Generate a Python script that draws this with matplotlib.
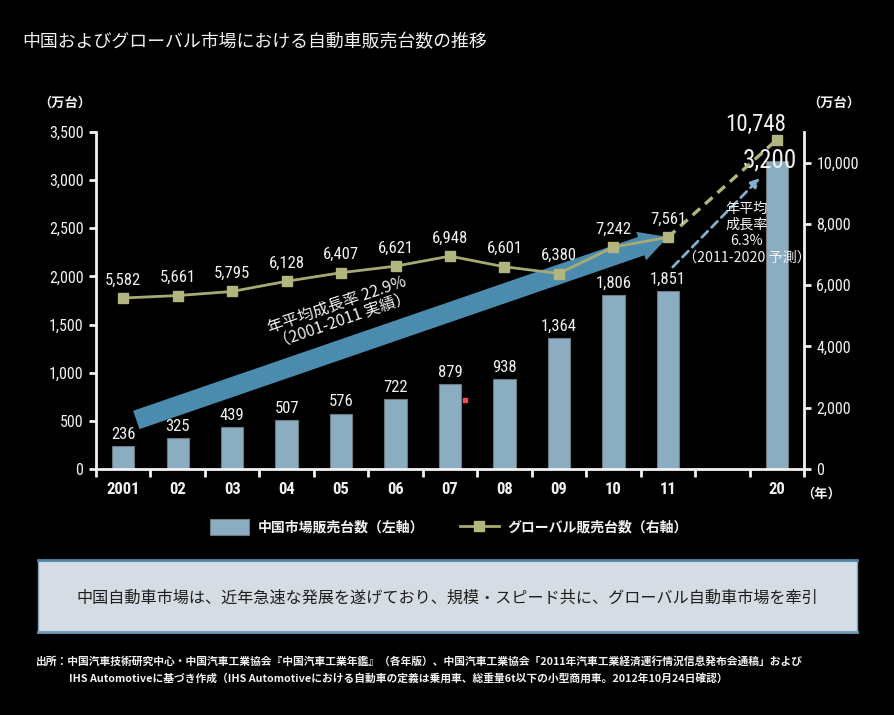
import matplotlib
matplotlib.use("Agg")
import matplotlib.pyplot as plt
import numpy as np
from matplotlib import font_manager
from matplotlib.patches import Patch, Rectangle
from matplotlib.lines import Line2D

# ---------------- data ----------------
year_labels = ['2001', '02', '03', '04', '05', '06', '07', '08', '09', '10', '11', '20']
years = [2001, 2002, 2003, 2004, 2005, 2006, 2007, 2008, 2009, 2010, 2011, 2020]
china_sales = [236, 325, 439, 507, 576, 722, 879, 938, 1364, 1806, 1851, 3200]
global_sales = [5582, 5661, 5795, 6128, 6407, 6621, 6948, 6601, 6380, 7242, 7561, 10748]
left_ticks = [0, 500, 1000, 1500, 2000, 2500, 3000, 3500]
right_ticks = [0, 2000, 4000, 6000, 8000, 10000]

title = '中国およびグローバル市場における自動車販売台数の推移'
legend_labels = ['中国市場販売台数（左軸）', 'グローバル販売台数（右軸）']
cagr_actual = '年平均成長率 22.9%\n（2001-2011 実績）'
cagr_forecast = '年平均\n成長率\n6.3%\n（2011-2020 予測）'
box_text = '中国自動車市場は、近年急速な発展を遂げており、規模・スピード共に、グローバル自動車市場を牽引'
source1 = '出所：中国汽車技術研究中心・中国汽車工業協会『中国汽車工業年鑑』（各年版）、中国汽車工業協会「2011年汽車工業経済運行情況信息発布会通稿」および'
source2 = 'IHS Automotiveに基づき作成（IHS Automotiveにおける自動車の定義は乗用車、総重量6t以下の小型商用車。2012年10月24日確認）'

# ---------------- style ----------------
CJK = ['Noto Sans CJK JP', 'DejaVu Sans']
plt.rcParams['font.family'] = CJK

# pick a narrow font for numbers if one is installed
_names = {f.name for f in font_manager.fontManager.ttflist}
_dv_cond = any(f.name == 'DejaVu Sans' and str(f.stretch) in ('condensed', 'semi-condensed', '700', '600')
               for f in font_manager.fontManager.ttflist)
NUM_KW = dict(family=['Noto Sans CJK JP', 'DejaVu Sans'])
for cand in ['Liberation Sans Narrow', 'Roboto Condensed', 'Open Sans Condensed', 'Noto Sans Condensed']:
    if cand in _names:
        NUM_KW = dict(family=[cand, 'Noto Sans CJK JP'])
        break
else:
    if _dv_cond:
        NUM_KW = dict(family=['DejaVu Sans'], fontstretch='condensed')

BAR = '#8AADC2'
LINE = '#A7AB73'
MARK = '#B2B67E'
ARROW = '#4B8BAE'
DASHBLUE = '#84AECA'
WHITE = '#F2F2F2'

fig = plt.figure(figsize=(8.94, 7.15), dpi=100, facecolor='black')
W, H = 894, 715
ax = fig.add_axes([96 / W, 1 - 469 / H, (804 - 96) / W, (469 - 132) / H])
ax.set_facecolor('black')
ax2 = ax.twinx()

# x positions: consecutive years, with a one-slot gap before 2020
xpos = np.array([i if y <= 2011 else i + 1 for i, y in enumerate(years)], dtype=float)

# bars
ax.bar(xpos, china_sales, width=0.41, color=BAR, edgecolor='#6E7880', linewidth=0.8, zorder=2)
ax.set_xlim(-0.5, xpos[-1] + 0.5)
ax.set_ylim(0, 3500)
ax.set_yticks(left_ticks)
ax.set_yticklabels([f'{v:,}' for v in left_ticks], fontsize=11.5, color=WHITE, **NUM_KW)

for x, v in zip(xpos[:-1], china_sales[:-1]):
    ax.annotate(f'{v:,}', (x, v), xytext=(0, 3), textcoords='offset points',
                ha='center', va='bottom', color=WHITE, fontsize=12, zorder=5, **NUM_KW)
ax.annotate(f'{china_sales[-1]:,}', (xpos[-1], china_sales[-1]), xytext=(-5, 0),
            textcoords='offset points', ha='center', va='center', color=WHITE,
            fontsize=18, zorder=5, **NUM_KW)

# x ticks: boundaries as major ticks, labels at minor positions
ax.set_xticks(np.arange(-0.5, xpos[-1] + 0.6, 1.0))
ax.set_xticklabels([])
ax.set_xticks(xpos, minor=True)
ax.set_xticklabels(year_labels, minor=True, fontsize=12, color=WHITE, fontweight='bold', **NUM_KW)
ax.tick_params(axis='x', which='major', direction='out', length=6, width=2, color=WHITE)
ax.tick_params(axis='x', which='minor', length=0, pad=9)
ax.tick_params(axis='y', direction='out', length=5, width=2, color=WHITE, pad=4)

for s in ['top', 'right']:
    ax.spines[s].set_visible(False)
for s in ['left', 'bottom']:
    ax.spines[s].set_color(WHITE)
    ax.spines[s].set_linewidth(2)

# right axis: global sales
ax2.set_ylim(0, 11000)
ax2.set_yticks(right_ticks)
ax2.set_yticklabels([f'{v:,}' for v in right_ticks], fontsize=11.5, color=WHITE, **NUM_KW)
ax2.tick_params(axis='y', direction='out', length=5, width=2, color=WHITE, pad=4)
for s in ['top', 'left', 'bottom']:
    ax2.spines[s].set_visible(False)
ax2.spines['right'].set_color(WHITE)
ax2.spines['right'].set_linewidth(2)

# big CAGR arrow (behind the line)
ax2.annotate('', xy=(10.0, 2410 * 11000 / 3500), xytext=(0.24, 509 * 11000 / 3500),
             arrowprops=dict(arrowstyle='simple,head_length=1.45,head_width=1.55,tail_width=1.0',
                             mutation_scale=14, color=ARROW, linewidth=0, shrinkA=0, shrinkB=0),
             zorder=1)
ax.text(3.98, 1620, cagr_actual, rotation=19, rotation_mode='anchor', ha='center', va='center',
        multialignment='center', color=WHITE, fontsize=11.5, linespacing=1.0, zorder=6)

# forecast dashed line
ax2.plot(xpos[-2:], global_sales[-2:], color='#B3B57D', lw=2.4, ls=(0, (3, 2)), zorder=3)
ax2.plot(xpos[:-1], global_sales[:-1], color=LINE, lw=2, zorder=3)
ax2.plot(xpos, global_sales, ls='none', marker='s', ms=7, mfc=MARK, mec=MARK, zorder=4)

for x, v in zip(xpos[:-1], global_sales[:-1]):
    ax2.annotate(f'{v:,}', (x, v), xytext=(0, 13), textcoords='offset points',
                 ha='center', va='center', color=WHITE, fontsize=12, zorder=5, **NUM_KW)
ax2.annotate(f'{global_sales[-1]:,}', (xpos[-1], global_sales[-1]), xytext=(-15, 11),
             textcoords='offset points', ha='center', va='center', color=WHITE,
             fontsize=16.5, zorder=5, **NUM_KW)

# forecast CAGR dashed arrow + text
ax.annotate('', xy=(11.69, 3022), xytext=(10.09, 2098),
            arrowprops=dict(arrowstyle='-|>', linestyle=(0, (3, 2)), color=DASHBLUE, lw=2,
                            mutation_scale=13, shrinkA=0, shrinkB=0), zorder=4)
ax.text(11.45, 2450, cagr_forecast, ha='center', va='center', multialignment='center',
        color=WHITE, fontsize=10.2, linespacing=1.2, zorder=6)

# small red mark present in the reference
ax.plot([6.28], [717], marker='s', ms=2.5, color='#FF4848', ls='none', zorder=6)

# unit labels
fig.text(65 / W, 1 - 103 / H, '（万台）', ha='center', va='center', color=WHITE, fontsize=9.5, fontweight='bold')
fig.text(834 / W, 1 - 103 / H, '（万台）', ha='center', va='center', color=WHITE, fontsize=9.5, fontweight='bold')
fig.text(801 / W, 1 - 494 / H, '（年）', ha='left', va='center', color=WHITE, fontsize=9.5, fontweight='bold')

# title
fig.text(22 / W, 1 - 42 / H, title, ha='left', va='center', color=WHITE, fontsize=12.9)

# legend
handles = [Patch(facecolor=BAR, edgecolor='#6E7880', linewidth=0.8),
           Line2D([], [], color=LINE, lw=2, marker='s', ms=7, mfc=MARK, mec=MARK)]
leg = fig.legend(handles, legend_labels, loc='center', bbox_to_anchor=(0.502, 1 - 527 / H),
                 ncol=2, frameon=False, fontsize=10, labelcolor=WHITE, handlelength=2.8,
                 handleheight=1.3, columnspacing=2.6, handletextpad=0.6)
for t in leg.get_texts():
    t.set_fontweight('bold')

# message box
fig.add_artist(Rectangle((38 / W, 1 - 632 / H), (857 - 38) / W, 72 / H, transform=fig.transFigure,
                         facecolor='#D5DCE3', edgecolor='#7FA0B8', linewidth=1))
fig.add_artist(Line2D([38 / W, 857 / W], [1 - 560 / H, 1 - 560 / H], transform=fig.transFigure,
                      color='#4E87AA', lw=2))
fig.add_artist(Line2D([38 / W, 857 / W], [1 - 632 / H, 1 - 632 / H], transform=fig.transFigure,
                      color='#6E9AB8', lw=2))
fig.text(0.5, 1 - 598 / H, box_text, ha='center', va='center', color='#1E1E1E', fontsize=11.6)

# source notes
fig.text(36 / W, 1 - 661 / H, source1, ha='left', va='center', color=WHITE, fontsize=7.75, fontweight='bold')
fig.text(69 / W, 1 - 678 / H, source2, ha='left', va='center', color=WHITE, fontsize=7.75, fontweight='bold')

fig.savefig('out.png', dpi=100, facecolor='black')
